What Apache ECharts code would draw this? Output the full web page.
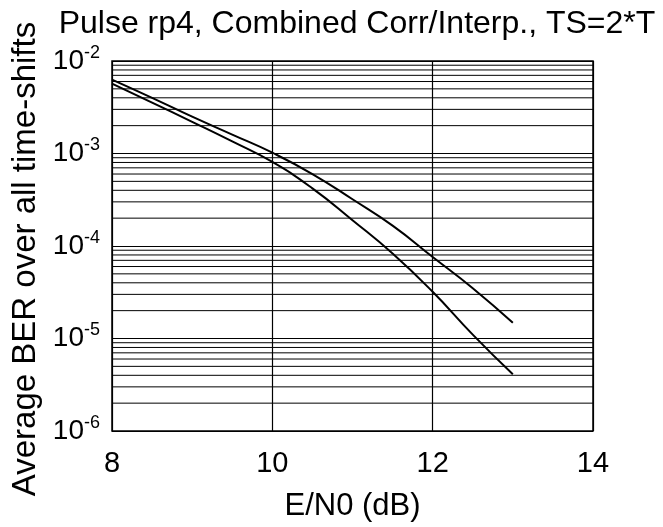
<!DOCTYPE html>
<html>
<head>
<meta charset="utf-8">
<title>Pulse rp4 BER</title>
<script src="https://cdn.jsdelivr.net/npm/echarts@6/dist/echarts.min.js"></script>
<style>
  html, body { margin: 0; padding: 0; background: #fff; }
  #chartModel { width: 663px; height: 527px; }
</style>
</head>
<body>
<div id="chartModel"></div>
<script>
// E/N0 (dB) sample points
const ebno = [8, 8.5, 9, 9.5, 10, 10.5, 11, 11.5, 12, 12.5, 13];
// upper curve
const berUpper = [6.3e-3, 4.0e-3, 2.5e-3, 1.6e-3, 1.02e-3, 6.0e-4, 3.2e-4, 1.66e-4, 7.6e-5, 3.5e-5, 1.48e-5];
// lower curve
const berLower = [5.7e-3, 3.55e-3, 2.2e-3, 1.35e-3, 8.1e-4, 4.2e-4, 1.9e-4, 8.3e-5, 3.2e-5, 1.1e-5, 4.1e-6];
// minor log grid values (2..9 in each decade)
const minorGrid = [];
[1e-6, 1e-5, 1e-4, 1e-3].forEach(function (dec) {
  for (let k = 2; k <= 9; k++) minorGrid.push(+(k * dec).toPrecision(3));
});
const xRange = [8, 14];

const fontName = 'Liberation Sans';

function pairs(xs, ys) {
  return xs.map(function (x, i) { return [x, ys[i]]; });
}

// one thin series per minor grid line (markLine did not show on the log axis)
const gridSeries = minorGrid.map(function (v) {
  return {
    type: 'line',
    silent: true,
    showSymbol: false,
    z: 1,
    data: [[xRange[0], v], [xRange[1], v]],
    lineStyle: { color: '#000', width: 1 }
  };
});

const myChart = echarts.init(document.getElementById('chartModel'));
const chartOption = {
  animation: false,
  backgroundColor: '#fff',
  title: {
    text: 'Pulse rp4, Combined Corr/Interp., TS=2*T',
    left: 352,
    textAlign: 'center',
    top: 3,
    textStyle: {
      color: '#000',
      fontFamily: fontName,
      fontSize: 32,
      fontWeight: 'normal'
    }
  },
  grid: {
    left: 112,
    right: 70,
    top: 61,
    bottom: 82,
    show: true,
    borderColor: '#000',
    borderWidth: 1.5
  },
  xAxis: {
    type: 'value',
    min: xRange[0],
    max: xRange[1],
    interval: 2,
    name: 'E/N0 (dB)',
    nameLocation: 'middle',
    nameGap: 60,
    nameTextStyle: {
      color: '#000',
      fontFamily: fontName,
      fontSize: 31
    },
    axisLine: { show: false },
    axisTick: { show: false },
    axisLabel: {
      color: '#000',
      fontFamily: fontName,
      fontSize: 29,
      margin: 18
    },
    splitLine: {
      show: true,
      lineStyle: { color: '#000', width: 1.2 }
    }
  },
  yAxis: {
    type: 'log',
    logBase: 10,
    min: 1e-6,
    max: 1e-2,
    name: 'Average BER over all time-shifts',
    nameLocation: 'middle',
    nameGap: 60,
    nameTextStyle: {
      color: '#000',
      fontFamily: fontName,
      fontSize: 33,
      padding: [0, 26, 0, 0]
    },
    axisLine: { show: false },
    axisTick: { show: false },
    axisLabel: {
      margin: 12,
      formatter: function (value) {
        const p = Math.round(Math.log10(value));
        return '{b|10}{s|' + p + '}';
      },
      rich: {
        b: { color: '#000', fontFamily: fontName, fontSize: 28 },
        s: { color: '#000', fontFamily: fontName, fontSize: 18, padding: [0, 0, 16, 0] }
      }
    },
    splitLine: {
      show: true,
      lineStyle: { color: '#000', width: 1.2 }
    }
  },
  series: gridSeries.concat([
    {
      name: 'upper',
      type: 'line',
      z: 3,
      data: pairs(ebno, berUpper),
      showSymbol: false,
      smooth: true,
      lineStyle: { color: '#000', width: 2 }
    },
    {
      name: 'lower',
      type: 'line',
      z: 3,
      data: pairs(ebno, berLower),
      showSymbol: false,
      smooth: true,
      lineStyle: { color: '#000', width: 2 }
    }
  ])
};
myChart.setOption(chartOption);
</script>
</body>
</html>
